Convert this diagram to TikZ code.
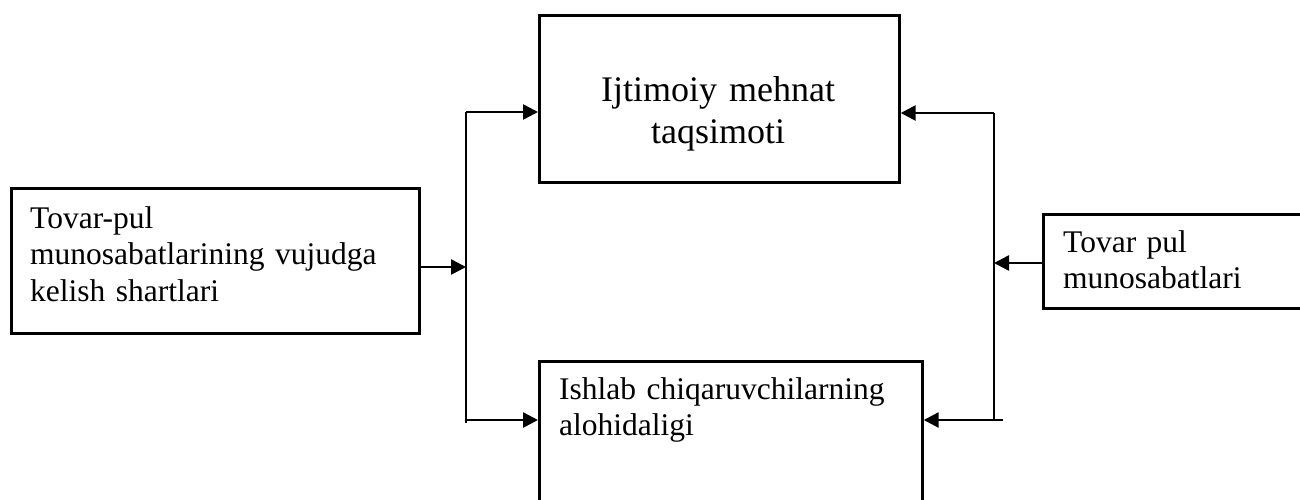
\documentclass[tikz,border=0pt]{standalone}
\usepackage{fontspec}
\setmainfont{Liberation Serif}
\usetikzlibrary{arrows.meta}
\begin{document}
\begin{tikzpicture}[x=1pt,y=-1pt,
  box/.style={draw=black,line width=2.7pt,rectangle,inner sep=0pt,anchor=north west},
  bigtxt/.style={inner sep=0pt,font=\fontsize{36}{42}\selectfont,text width=340pt,align=center,anchor=base},
  smalltxt/.style={inner sep=0pt,font=\fontsize{31.5}{36.5}\selectfont,align=left,anchor=base west},
  conn/.style={draw=black,line width=2.6pt},
  arr/.style={conn,-{Triangle[length=15pt,width=15pt]}}]
\useasboundingbox (0,0) rectangle (1300,499);
\clip (0,0) rectangle (1300,499);
% boxes
\node[box,minimum width=360pt,minimum height=167pt] (T) at (538,14) {};
\node[box,minimum width=408pt,minimum height=145pt] (L) at (10,187) {};
\node[box,minimum width=290pt,minimum height=94pt] (R) at (1042,213) {};
\node[box,minimum width=383pt,minimum height=200pt] (B) at (538,360) {};
% texts
\node[bigtxt] (Tt) at (718,101) {Ijtimoiy mehnat\\taqsimoti};
\node[smalltxt,text width=390pt] (Lt) at (30,228) {Tovar-pul\\munosabatlarining vujudga\\kelish shartlari};
\node[smalltxt,text width=230pt] (Rt) at (1063,252) {Tovar pul\\munosabatlari};
\node[smalltxt,text width=360pt] (Bt) at (559,399) {Ishlab chiqaruvchilarning\\alohidaligi};
% left connectors
\coordinate (lt) at (466,112);
\coordinate (lm) at (466,267);
\coordinate (lb) at (466,423);
\coordinate (lbb) at (466,420);
\draw[conn] (lt) -- (lb);
\draw[arr] (L.east |- lm) -- (lm);
\draw[arr] (lt) -- (T.west |- lt);
\draw[arr] (lbb) -- (B.west |- lbb);
% right connectors
\coordinate (rt) at (994,113);
\coordinate (rm) at (994,263);
\coordinate (rb) at (994,420);
\coordinate (rbe) at (1003,420);
\draw[conn] (rt) -- (rb);
\draw[arr] (rt) -- (T.east |- rt);
\draw[arr] (R.west |- rm) -- (rm);
\draw[arr] (rbe) -- (B.east |- rbe);
\end{tikzpicture}
\end{document}
